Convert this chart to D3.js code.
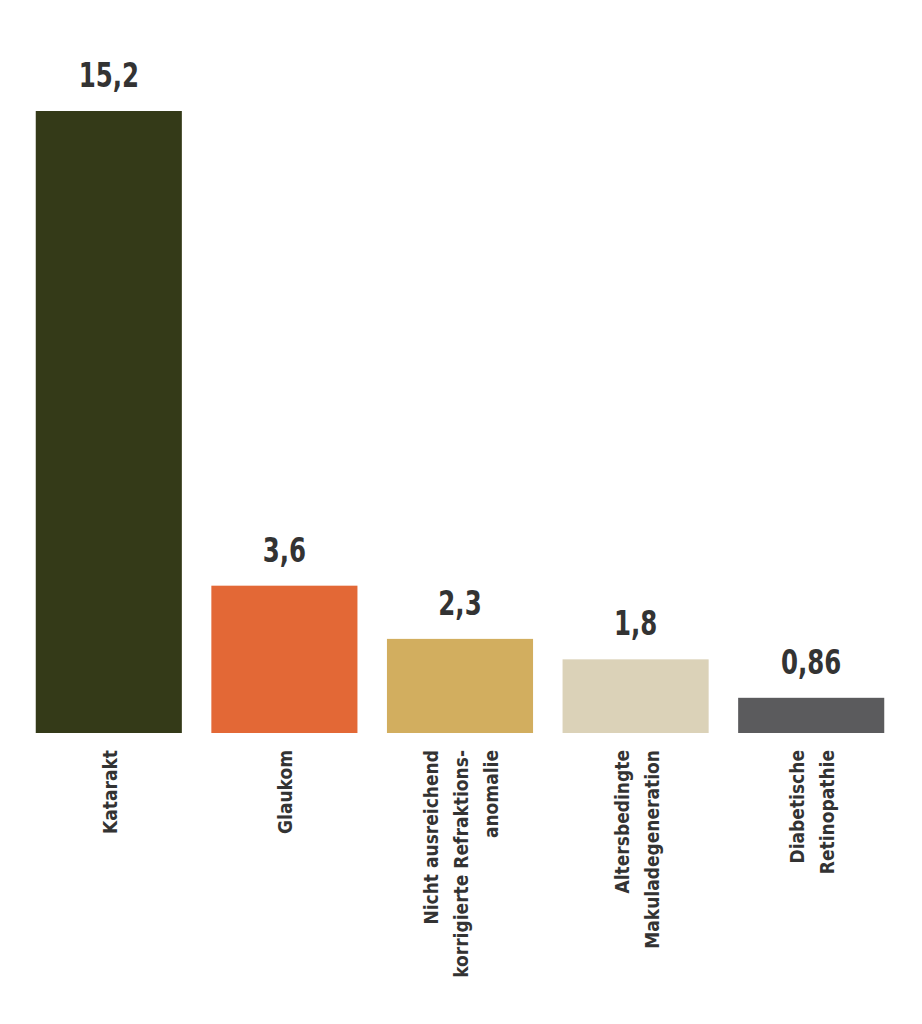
<!DOCTYPE html>
<html>
<head>
<meta charset="utf-8">
<script src="https://cdn.jsdelivr.net/npm/d3@7"></script>
<style>
  body { margin: 0; background: #fff; }
  text { font-family: "Liberation Sans Narrow", "DejaVu Sans Condensed", sans-serif; font-weight: bold; fill: #333; }
</style>
</head>
<body>
<div id="chart"></div>
<script>
const categories = ["Katarakt", "Glaukom", "Nicht ausreichend korrigierte Refraktionsanomalie", "Altersbedingte Makuladegeneration", "Diabetische Retinopathie"];
const labelLines = [
  ["Katarakt"],
  ["Glaukom"],
  ["Nicht ausreichend", "korrigierte Refraktions-", "anomalie"],
  ["Altersbedingte", "Makuladegeneration"],
  ["Diabetische", "Retinopathie"]
];
const values = [15.2, 3.6, 2.3, 1.8, 0.86];
const colors = ["#343a18", "#e36836", "#d2ae5f", "#dbd2b8", "#5b5b5d"];

const width = 922;
const height = 1024;
const baseline = 733;

const svg = d3.select("#chart")
  .append("svg")
  .attr("width", width)
  .attr("height", height);

const xScale = d3.scaleBand()
  .domain(categories)
  .range([21, 899])
  .paddingInner(0.168)
  .paddingOuter(0.084);

const yScale = d3.scaleLinear()
  .domain([0, 15.2])
  .range([baseline, 111]);

svg.selectAll("rect")
  .data(categories)
  .enter()
  .append("rect")
  .attr("x", (d) => xScale(d))
  .attr("y", (d, i) => yScale(values[i]))
  .attr("width", xScale.bandwidth())
  .attr("height", (d, i) => baseline - yScale(values[i]))
  .attr("fill", (d, i) => colors[i]);

// value labels, squeezed a bit to look condensed
svg.selectAll(".value")
  .data(categories)
  .enter()
  .append("text")
  .attr("class", "value")
  .attr("text-anchor", "middle")
  .style("font-size", "34px")
  .attr("transform", (d, i) =>
    `translate(${xScale(d) + xScale.bandwidth() / 2}, ${yScale(values[i]) - 24}) scale(0.8, 1)`)
  .text((d, i) => String(values[i]).replace(".", ","));

const lineGap = 30;
const labels = svg.selectAll(".cat")
  .data(categories)
  .enter()
  .append("text")
  .attr("class", "cat")
  .attr("text-anchor", "end")
  .style("font-size", "20px")
  .attr("transform", (d, i) => {
    const n = labelLines[i].length;
    const cx = xScale(d) + xScale.bandwidth() / 2 - (n - 1) * lineGap / 2 + 8;
    return `translate(${cx}, 750) rotate(-90) scale(0.95, 1)`;
  });

labels.selectAll("tspan")
  .data((d, i) => labelLines[i])
  .enter()
  .append("tspan")
  .attr("x", 0)
  .attr("y", (d, j) => j * lineGap)
  .text((d) => d);
</script>
</body>
</html>
